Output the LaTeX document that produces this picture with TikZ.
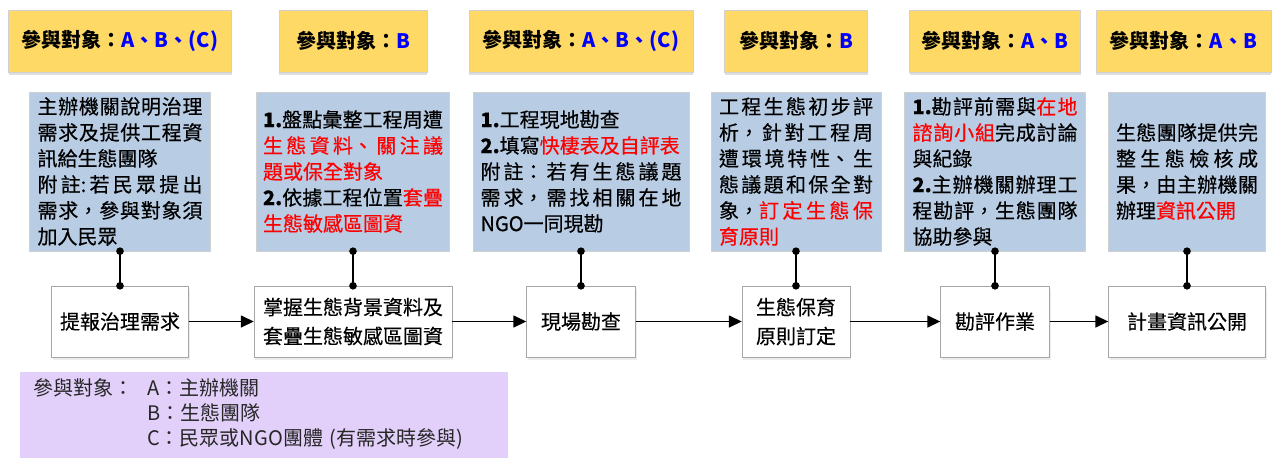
\documentclass[tikz,border=0pt]{standalone}
\usepackage{fontspec}
\setmainfont{Noto Sans CJK TC}
\newfontfamily\notefont{Noto Sans CJK TC}[FakeBold=0.5]
\newfontfamily\taskfont{Noto Sans CJK TC}[FakeBold=0.3]
\usepackage{xcolor}
\usetikzlibrary{arrows.meta,shadows}
\XeTeXlinebreaklocale "zh"
\XeTeXlinebreakskip=0pt plus 4pt

\definecolor{whofill}{HTML}{FFD966}
\definecolor{notefill}{HTML}{B8CCE4}
\definecolor{keyfill}{HTML}{E2D0FA}
\definecolor{boxline}{HTML}{D0D0D0}
\definecolor{whoblue}{HTML}{0000FF}
\definecolor{hotred}{HTML}{FF0000}
\newcommand\hot[1]{\textcolor{hotred}{#1}}
\newcommand\whois[1]{參與對象：\textcolor{whoblue}{#1}}

\begin{document}
\begin{tikzpicture}[x=1pt,y=-1pt,
      who/.style={draw=boxline, fill=whofill, minimum height=62pt,
        font=\fontsize{20}{24}\selectfont\bfseries,
        drop shadow={shadow xshift=0pt, shadow yshift=-3pt, opacity=0.25}},
      note/.style={draw=boxline, fill=notefill, minimum height=159pt,
        inner xsep=0pt, align=justify, font=\notefont\fontsize{20}{26}\selectfont},
      task/.style={draw=boxline!80!black, fill=white, minimum height=71pt,
        align=center, font=\taskfont\fontsize{20}{29}\selectfont,
        drop shadow={shadow xshift=1pt, shadow yshift=-3pt, opacity=0.15}},
      key/.style={fill=keyfill, inner xsep=13pt, align=left,
        font=\fontsize{20}{25}\selectfont\color{black!85}},
      link/.style={line width=1.5pt, {Circle[length=7.5pt]}-{Circle[length=7.5pt]},
        shorten <=-3.75pt, shorten >=-3.75pt},
      flow/.style={line width=1.5pt, -{Triangle[length=13pt,width=12pt]}}]
    \useasboundingbox (0,0) rectangle (1273,458);

    \node[who, minimum width=223pt] (who1) at (120,41) {\whois{A、B、(C)}};
    \node[who, minimum width=148pt] (who2) at (353,41) {\whois{B}};
    \node[who, minimum width=224pt] (who3) at (581,41) {\whois{A、B、(C)}};
    \node[who, minimum width=143pt] (who4) at (796,41) {\whois{B}};
    \node[who, minimum width=171pt] (who5) at (995,41) {\whois{A、B}};
    \node[who, minimum width=175pt] (who6) at (1183.5,41) {\whois{A、B}};

    \node[note, text width=165pt, minimum width=181pt] (note1) at (120,171.5)
      {主辦機關說明治理\linebreak 需求及提供工程資\linebreak 訊給生態團隊\newline
       附註:若民眾提出\linebreak 需求，參與對象須\linebreak 加入民眾};
    \node[note, text width=180pt, minimum width=193pt] (note2) at (353,171.5)
      {\textbf{1.}盤點彙整工程周遭\linebreak \hot{生態資料、關注議}\linebreak
       \hot{題或保全對象}\newline \textbf{2.}依據工程位置\hot{套疊}\linebreak
       \hot{生態敏感區圖資}};
    \node[note, text width=201pt, minimum width=216pt] (note3) at (581,171.5)
      {\textbf{1.}工程現地勘查\newline \textbf{2.}填寫\hot{快棲表及自評表}\newline
       附註：若有生態議題\linebreak 需求，需找相關在地\linebreak NGO一同現勘};
    \node[note, text width=154pt, minimum width=170pt] (note4) at (796,171.5)
      {工程生態初步評\linebreak 析，針對工程周\linebreak 遭環境特性、生\linebreak
       態議題和保全對\linebreak 象，\hot{訂定生態保}\linebreak \hot{育原則}};
    \node[note, text width=165pt, minimum width=181pt] (note5) at (995,171.5)
      {\textbf{1.}勘評前需與\hot{在地}\linebreak \hot{諮詢小組}完成討論\linebreak
       與紀錄\newline \textbf{2.}主辦機關辦理工\linebreak 程勘評，生態團隊\linebreak
       協助參與};
    \node[note, text width=142pt, minimum width=157pt] (note6) at (1187,171.5)
      {生態團隊提供完\linebreak 整生態檢核成\linebreak 果，由主辦機關\linebreak
       辦理\hot{資訊公開}};

    \node[task, minimum width=137pt] (task1) at (120,321.5) {提報治理需求};
    \node[task, minimum width=198pt] (task2) at (353,321.5) {掌握生態背景資料及\\套疊生態敏感區圖資};
    \node[task, minimum width=109pt] (task3) at (581,321.5) {現場勘查};
    \node[task, minimum width=108pt] (task4) at (796,321.5) {生態保育\\原則訂定};
    \node[task, minimum width=109pt] (task5) at (995,321.5) {勘評作業};
    \node[task, minimum width=157pt] (task6) at (1187,321.5) {計畫資訊公開};

    \draw[link] (note1.south) -- (task1.north);
    \draw[link] (note2.south) -- (task2.north);
    \draw[link] (note3.south) -- (task3.north);
    \draw[link] (note4.south) -- (task4.north);
    \draw[link] (note5.south) -- (task5.north);
    \draw[link] (note6.south) -- (task6.north);

    \draw[flow] (task1) -- (task2);
    \draw[flow] (task2) -- (task3);
    \draw[flow] (task3) -- (task4);
    \draw[flow] (task4) -- (task5);
    \draw[flow] (task5) -- (task6);

    \node[key, anchor=north west, text width=462pt, minimum height=86pt] (key) at (20,372)
      {\begin{tabular}{@{}l@{\hspace{14pt}}l@{}}
         參與對象：& A：主辦機關\\
                   & B：生態團隊\\
                   & C：民眾或NGO團體 (有需求時參與)
       \end{tabular}};
  \end{tikzpicture}
\end{document}
